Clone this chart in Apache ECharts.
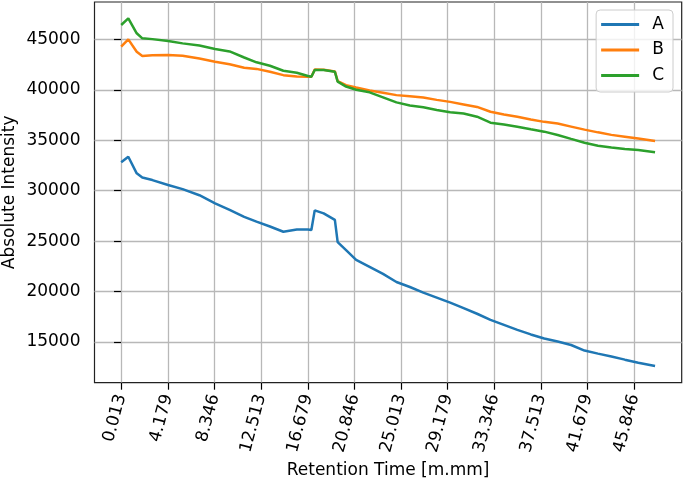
<!DOCTYPE html>
<html>
<head>
<meta charset="utf-8">
<script src="https://cdn.jsdelivr.net/npm/echarts@6/dist/echarts.min.js"></script>
<style>
html,body{margin:0;padding:0;background:#fff;}
#chart{width:685px;height:484px;}
</style>
</head>
<body>
<div id="chart"></div>
<script>
// retention time samples (m.mm)
var retentionTime = [0.013, 0.65, 1.4, 1.9, 2.8, 4.2, 5.5, 7.0, 8.4, 9.7, 11.0, 12.1, 13.3, 14.5, 15.7, 16.7, 17.0, 17.3, 18.1, 19.1, 19.35, 20.1, 21.0, 22.2, 23.4, 24.6, 25.8, 27.0, 28.2, 29.4, 30.6, 31.8, 33.0, 34.2, 35.4, 36.6, 37.8, 39.0, 40.2, 41.4, 42.6, 43.8, 45.0, 46.2, 47.7];

var seriesA = [32810, 33365, 31720, 31300, 31050, 30560, 30150, 29550, 28750, 28100, 27400, 26930, 26450, 25930, 26150, 26150, 26100, 28050, 27750, 27100, 24900, 24100, 23130, 22450, 21750, 20950, 20450, 19900, 19400, 18900, 18350, 17800, 17200, 16700, 16200, 15750, 15350, 15050, 14700, 14150, 13850, 13560, 13250, 12950, 12620];
var seriesB = [44270, 45000, 43770, 43350, 43410, 43440, 43380, 43100, 42780, 42530, 42180, 42070, 41780, 41450, 41320, 41290, 41290, 42000, 41990, 41820, 40850, 40450, 40220, 39920, 39700, 39470, 39350, 39230, 39000, 38800, 38550, 38300, 37820, 37550, 37320, 37050, 36820, 36650, 36350, 36050, 35780, 35530, 35350, 35170, 34920];
var seriesC = [46420, 47080, 45600, 45100, 45020, 44830, 44600, 44380, 44040, 43800, 43200, 42720, 42380, 41890, 41690, 41360, 41290, 41960, 41960, 41790, 40800, 40320, 40000, 39750, 39250, 38750, 38450, 38260, 38000, 37780, 37650, 37330, 36740, 36550, 36330, 36080, 35850, 35520, 35130, 34750, 34450, 34280, 34130, 34020, 33800];

var seriesNames = ['A', 'B', 'C'];
var xTicks = [0.013, 4.179, 8.346, 12.513, 16.679, 20.846, 25.013, 29.179, 33.346, 37.513, 41.679, 45.846];
var yTicks = [15000, 20000, 25000, 30000, 35000, 40000, 45000];

var font = 'DejaVu Sans';
var colors = ['#1f77b4', '#ff7f0e', '#2ca02c'];

function pairs(xs, ys){
    return xs.map(function(x, i){ return [x, ys[i]]; });
}

var chart = echarts.init(document.getElementById('chart'), null, {renderer:'canvas'});

var option = {
    animation: false,
    color: colors,
    textStyle: {fontFamily: font},
    grid: {
        left: 94.5, right: 3.3, top: 2, bottom: 101.3,
        outerBoundsMode: 'none',
        containLabel: false,
        show: true, borderColor: '#222', borderWidth: 1.2,
        backgroundColor: 'transparent'
    },
    legend: {
        orient: 'vertical',
        right: 12, top: 10,
        data: seriesNames,
        icon: 'rect',
        itemWidth: 38, itemHeight: 3,
        itemGap: 8.5,
        padding: [6, 9, 8, 5],
        borderColor: '#cccccc', borderWidth: 1, borderRadius: 4,
        backgroundColor: 'rgba(255,255,255,0.8)',
        textStyle: {fontFamily: font, fontSize: 17, color: '#000', padding: [0, 0, 0, 8]}
    },
    xAxis: {
        type: 'value',
        min: -2.37, max: 50.08,
        name: 'Retention Time [m.mm]',
        nameLocation: 'middle',
        nameGap: 79,
        nameMoveOverlap: false,
        nameTextStyle: {fontFamily: font, fontSize: 17, color: '#000'},
        axisLine: {show: false},
        axisTick: {show: true, length: 7, lineStyle: {color: '#000', width: 1.2}, customValues: xTicks},
        axisLabel: {
            customValues: xTicks,
            interval: 0,
            rotate: 75,
            margin: 12,
            padding: [21, 0, 0, 0],
            fontFamily: font, fontSize: 17, color: '#000',
            formatter: function(v){ return v.toFixed(3); }
        },
        splitLine: {show: true, lineStyle: {color: '#b8b8b8', width: 1.3}}
    },
    yAxis: {
        type: 'value',
        min: 10966, max: 48700,
        name: 'Absolute Intensity',
        nameLocation: 'middle',
        nameGap: 76,
        nameMoveOverlap: false,
        nameTextStyle: {fontFamily: font, fontSize: 17, color: '#000'},
        axisLine: {show: false},
        axisTick: {show: true, length: 7, lineStyle: {color: '#000', width: 1.2}, customValues: yTicks},
        axisLabel: {
            customValues: yTicks,
            margin: 14,
            fontFamily: font, fontSize: 17, color: '#000',
            formatter: function(v){ return String(v); }
        },
        splitLine: {show: true, lineStyle: {color: '#b8b8b8', width: 1.3}}
    },
    series: [
        {name: 'A', type: 'line', data: pairs(retentionTime, seriesA), symbol: 'none', lineStyle: {width: 2.5}},
        {name: 'B', type: 'line', data: pairs(retentionTime, seriesB), symbol: 'none', lineStyle: {width: 2.5}},
        {name: 'C', type: 'line', data: pairs(retentionTime, seriesC), symbol: 'none', lineStyle: {width: 2.5}}
    ]
};

chart.setOption(option);
</script>
</body>
</html>
